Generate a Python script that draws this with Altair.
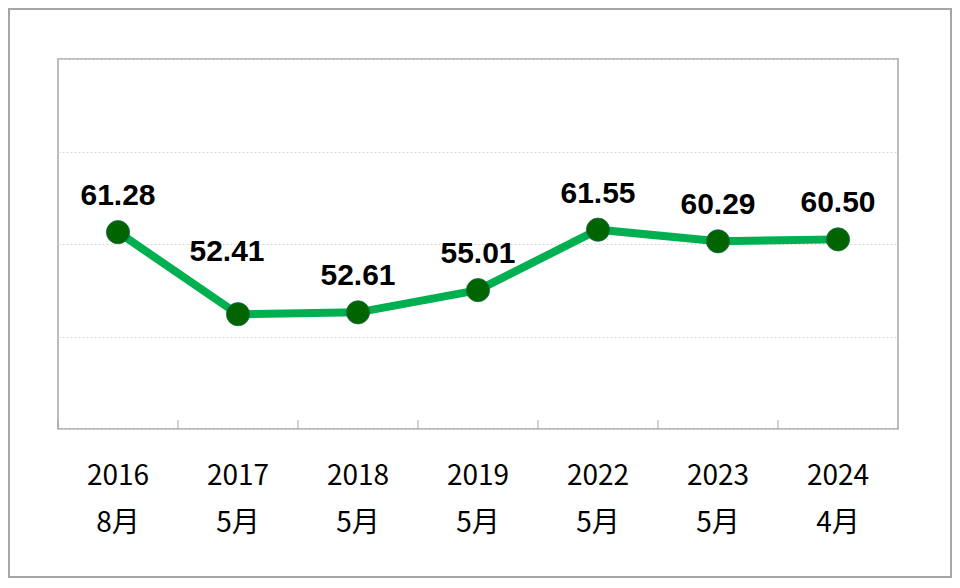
import altair as alt
import pandas as pd

years = ["2016", "2017", "2018", "2019", "2022", "2023", "2024"]
months = ["8月", "5月", "5月", "5月", "5月", "5月", "4月"]
values = [61.28, 52.41, 52.61, 55.01, 61.55, 60.29, 60.50]
value_labels = ["61.28", "52.41", "52.61", "55.01", "61.55", "60.29", "60.50"]

df = pd.DataFrame({
    "year": years,
    "cat": [f"{y}\n{m}" for y, m in zip(years, months)],
    "value": values,
    "label": value_labels,
})
order = list(df["cat"])

x_scale = alt.Scale(type="band", domain=order, paddingInner=0, paddingOuter=0)
x_axis = alt.Axis(
    title=None, domain=False, ticks=False, tickSize=0, grid=False,
    labelExpr="split(datum.label, '\\n')",
    labelFont="Noto Sans CJK TC", labelFontSize=28, labelColor="#000000",
    labelLineHeight=47, labelBaseline="alphabetic", labelPadding=55,
    labelAngle=0, labelAlign="center",
)
y_scale = alt.Scale(domain=[40, 80], nice=False, zero=False)
y_axis = alt.Axis(
    title=None, labels=False, ticks=False, domain=False, values=[40, 50, 60, 70, 80],
    grid=True, gridColor="#D9D9D9", gridDash=[2, 2], gridWidth=1,
)

base = alt.Chart(df)

line = base.mark_line(color="#00B050", strokeWidth=8).encode(
    x=alt.X("cat:N", scale=x_scale, axis=x_axis, sort=order),
    y=alt.Y("value:Q", scale=y_scale, axis=y_axis),
)

points = base.mark_circle(size=540, color="#006400", opacity=1, stroke="#1d6b55", strokeWidth=0.8).encode(
    x=alt.X("cat:N", sort=order),
    y="value:Q",
)

text_main = base.transform_filter(alt.datum.year != "2017").mark_text(
    font="Liberation Sans", fontSize=30, fontWeight="bold", color="#000000",
    align="center", baseline="alphabetic", dy=-27,
).encode(x=alt.X("cat:N", sort=order), y="value:Q", text="label:N")

text_2017 = base.transform_filter(alt.datum.year == "2017").mark_text(
    font="Liberation Sans", fontSize=30, fontWeight="bold", color="#000000",
    align="center", baseline="alphabetic", dy=-53, dx=-11,
).encode(x=alt.X("cat:N", sort=order), y="value:Q", text="label:N")

ticks = base.mark_rule(color="#A6A6A6", strokeWidth=1).encode(
    x=alt.X("cat:N", sort=order, bandPosition=0),
    y=alt.value(361),
    y2=alt.value(370),
)

frame = alt.Chart(alt.Data(values=[{"a": 1}])).mark_rect(
    filled=False, stroke="#A6A6A6", strokeWidth=2, clip=False
).encode(
    x=alt.value(-49), x2=alt.value(893), y=alt.value(-50), y2=alt.value(518)
)

chart = alt.layer(frame, ticks, line, points, text_main, text_2017).properties(
    width=840, height=370,
    padding={"left": 50, "top": 51, "right": 54, "bottom": 149},
    autosize=alt.AutoSizeParams(type="none"),
    background="#FFFFFF",
).configure_view(stroke="#A6A6A6", strokeWidth=1.5)

chart.save("out.html", embed_options={"renderer": "svg", "actions": False})
